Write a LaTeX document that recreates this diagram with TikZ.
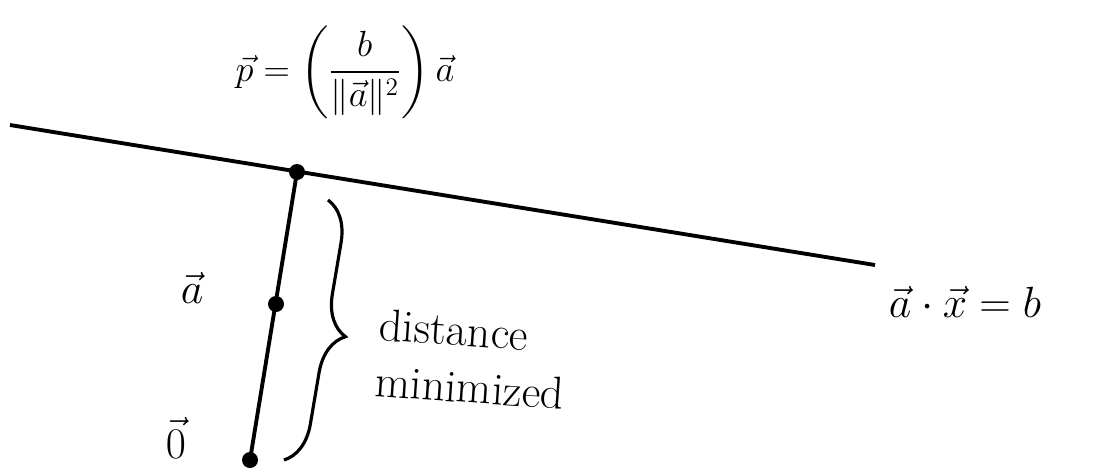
\documentclass[tikz,border=0pt]{standalone}
\usepackage{amsmath,amssymb}
\usetikzlibrary{decorations.pathreplacing}
\tikzset{lbl/.style={font=\fontsize{22}{28}\selectfont},
         big/.style={font=\fontsize{26}{32}\selectfont}}

\begin{document}
\begin{tikzpicture}[x=0.02cm, y=-0.02cm, line width=2.2pt]
    \useasboundingbox (0,0) rectangle (1114,468);
    \coordinate (L) at (10,125);
    \coordinate (R) at (875,265);
    \coordinate (P) at (297,172);
    \coordinate (A) at (276,304);
    \coordinate (O) at (250,460);
    \coordinate (Bt) at (328,200);
    \coordinate (Bb) at (284,460);
    \draw (L) -- (R);
    \draw (P) -- (O);
    \draw[decorate, decoration={brace, amplitude=0.8cm}, line width=1.8pt] (Bt) -- (Bb);
    \fill (P) circle (8);
    \fill (A) circle (8);
    \fill (O) circle (8);
    \node[lbl] (pl) at (345,72) {$\vec p=\left(\dfrac{b}{\|\vec a\|^2}\right)\vec a$};
    \node[big] (al) at (192,288) {$\vec a$};
    \node[big] (ol) at (176,438) {$\vec 0$};
    \node[big] (eq) at (965,302) {$\vec a\cdot\vec x=b$};
    \node[big, rotate=-4, align=left, anchor=west] (dm) at (370,352) {distance\\minimized};
\end{tikzpicture}
\end{document}
